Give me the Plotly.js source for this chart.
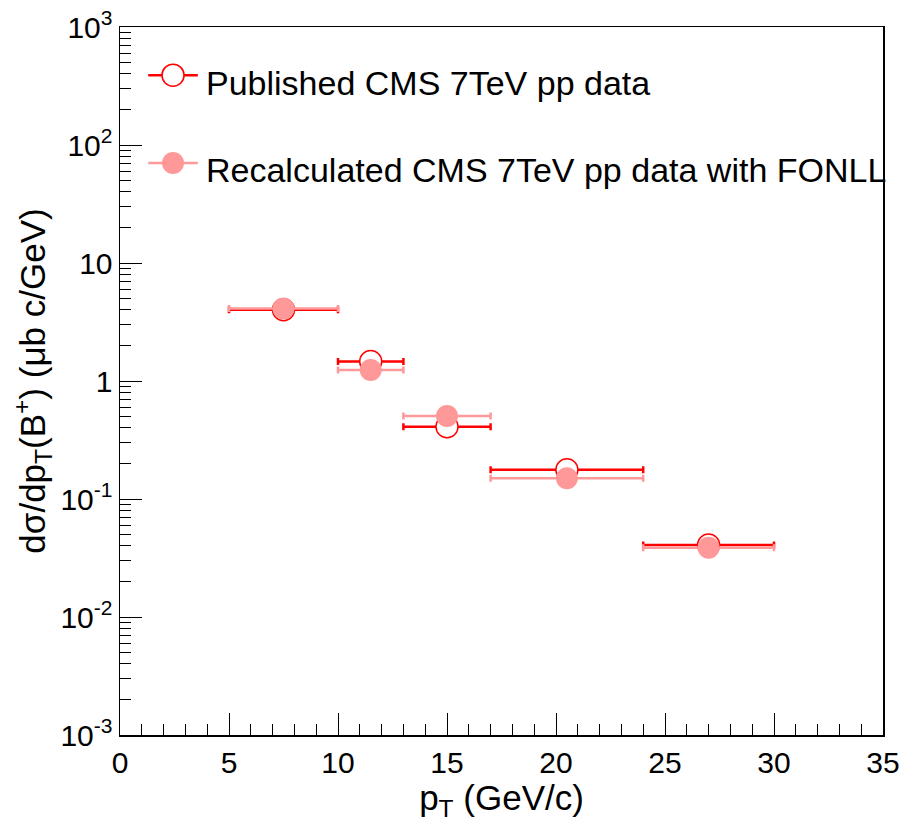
<!DOCTYPE html>
<html>
<head>
<meta charset="utf-8">
<script src="https://cdn.plot.ly/plotly-3.0.1.min.js"></script>
<style>html,body{margin:0;padding:0;background:#fff;}#chart{width:903px;height:822px;}</style>
</head>
<body>
<div id="chart"></div>
<script>
// bin centres and edges (GeV/c)
var ptCenter = [7.5, 11.5, 15, 20.5, 27];
var ptLow    = [5, 10, 13, 17, 24];
var ptHigh   = [10, 13, 17, 24, 30];
// dsigma/dpT (mub c/GeV)
var publishedCMS    = [4.02, 1.46, 0.41, 0.177, 0.0408];
var recalculatedCMS = [4.12, 1.24, 0.506, 0.150, 0.0387];
var seriesNames = ["Published CMS 7TeV pp data", "Recalculated CMS 7TeV pp data with FONLL"];
var yTickVals = [0.001, 0.01, 0.1, 1, 10, 100, 1000];
var yTickText = ["10<sup>-3</sup>", "10<sup>-2</sup>", "10<sup>-1</sup>", "1", "10", "10<sup>2</sup>", "10<sup>3</sup>"];

var RED = "#ff0000", PINK = "#ff9999";
var errPlus = ptCenter.map(function(c, i){ return ptHigh[i] - c; });
var errMinus = ptCenter.map(function(c, i){ return c - ptLow[i]; });

var traces = [
  {
    x: ptCenter, y: publishedCMS, type: "scatter", mode: "markers", name: seriesNames[0],
    marker: {symbol: "circle", size: 22, color: "#ffffff", line: {color: RED, width: 1.5}},
    error_x: {type: "data", symmetric: false, array: errPlus, arrayminus: errMinus,
              color: RED, thickness: 2.5, width: 3.5},
    showlegend: false
  },
  {
    x: ptCenter, y: recalculatedCMS, type: "scatter", mode: "markers", name: seriesNames[1],
    marker: {symbol: "circle", size: 22, color: PINK, line: {width: 0}},
    error_x: {type: "data", symmetric: false, array: errPlus, arrayminus: errMinus,
              color: PINK, thickness: 2.5, width: 3.5},
    showlegend: false
  }
];

var FONT = "Liberation Sans, Arial, Helvetica, sans-serif";

// manual legend (ROOT style: line through marker, no box)
var legY = [0.932, 0.808];
var shapes = [
  {type: "line", xref: "paper", yref: "paper", x0: 0.037, x1: 0.102, y0: legY[0], y1: legY[0], line: {color: RED, width: 2.5}},
  {type: "circle", xref: "paper", yref: "paper", xsizemode: "pixel", ysizemode: "pixel",
   xanchor: 0.0695, yanchor: legY[0], x0: -11, x1: 11, y0: -11, y1: 11,
   fillcolor: "#ffffff", line: {color: RED, width: 1.5}},
  {type: "line", xref: "paper", yref: "paper", x0: 0.037, x1: 0.102, y0: legY[1], y1: legY[1], line: {color: PINK, width: 2.5}},
  {type: "circle", xref: "paper", yref: "paper", xsizemode: "pixel", ysizemode: "pixel",
   xanchor: 0.0695, yanchor: legY[1], x0: -11, x1: 11, y0: -11, y1: 11,
   fillcolor: PINK, line: {color: PINK, width: 0}}
];
var annotations = [
  {xref: "paper", yref: "paper", x: 0.110, y: legY[0] - 0.011, xanchor: "left", yanchor: "middle",
   text: seriesNames[0], showarrow: false, font: {family: FONT, size: 34, color: "#000"}},
  {xref: "paper", yref: "paper", x: 0.110, y: legY[1] - 0.010, xanchor: "left", yanchor: "middle",
   text: seriesNames[1], showarrow: false, font: {family: FONT, size: 34, color: "#000"}}
];

var layout = {
  width: 903, height: 822,
  margin: {l: 120, r: 20, t: 27, b: 87, pad: 0},
  paper_bgcolor: "#fff", plot_bgcolor: "#fff",
  font: {family: FONT, color: "#000"},
  showlegend: false,
  xaxis: {
    range: [0, 35], dtick: 5, tick0: 0,
    ticks: "inside", ticklen: 22, tickwidth: 1, tickcolor: "#000",
    minor: {dtick: 1, ticks: "inside", ticklen: 11, tickwidth: 1, tickcolor: "#000"},
    showgrid: false, zeroline: false,
    showline: true, linecolor: "#000", linewidth: 1.5, mirror: true,
    tickfont: {family: FONT, size: 30},
    title: {text: "p<sub>T</sub> (GeV/c)", font: {family: FONT, size: 35}, standoff: 4}
  },
  yaxis: {
    type: "log", range: [-3, 3],
    tickmode: "array", tickvals: yTickVals, ticktext: yTickText,
    ticks: "inside", ticklen: 22, tickwidth: 1, tickcolor: "#000",
    minor: {dtick: "D1", ticks: "inside", ticklen: 11, tickwidth: 1, tickcolor: "#000"},
    showgrid: false, zeroline: false,
    showline: true, linecolor: "#000", linewidth: 1.5, mirror: true,
    tickfont: {family: FONT, size: 30},
    title: {text: "dσ/dp<sub>T</sub>(B<sup>+</sup>) (μb c/GeV)", font: {family: FONT, size: 35}, standoff: 4}
  },
  shapes: shapes,
  annotations: annotations
};

Plotly.newPlot("chart", traces, layout, {displayModeBar: false, staticPlot: true});
</script>
</body>
</html>
